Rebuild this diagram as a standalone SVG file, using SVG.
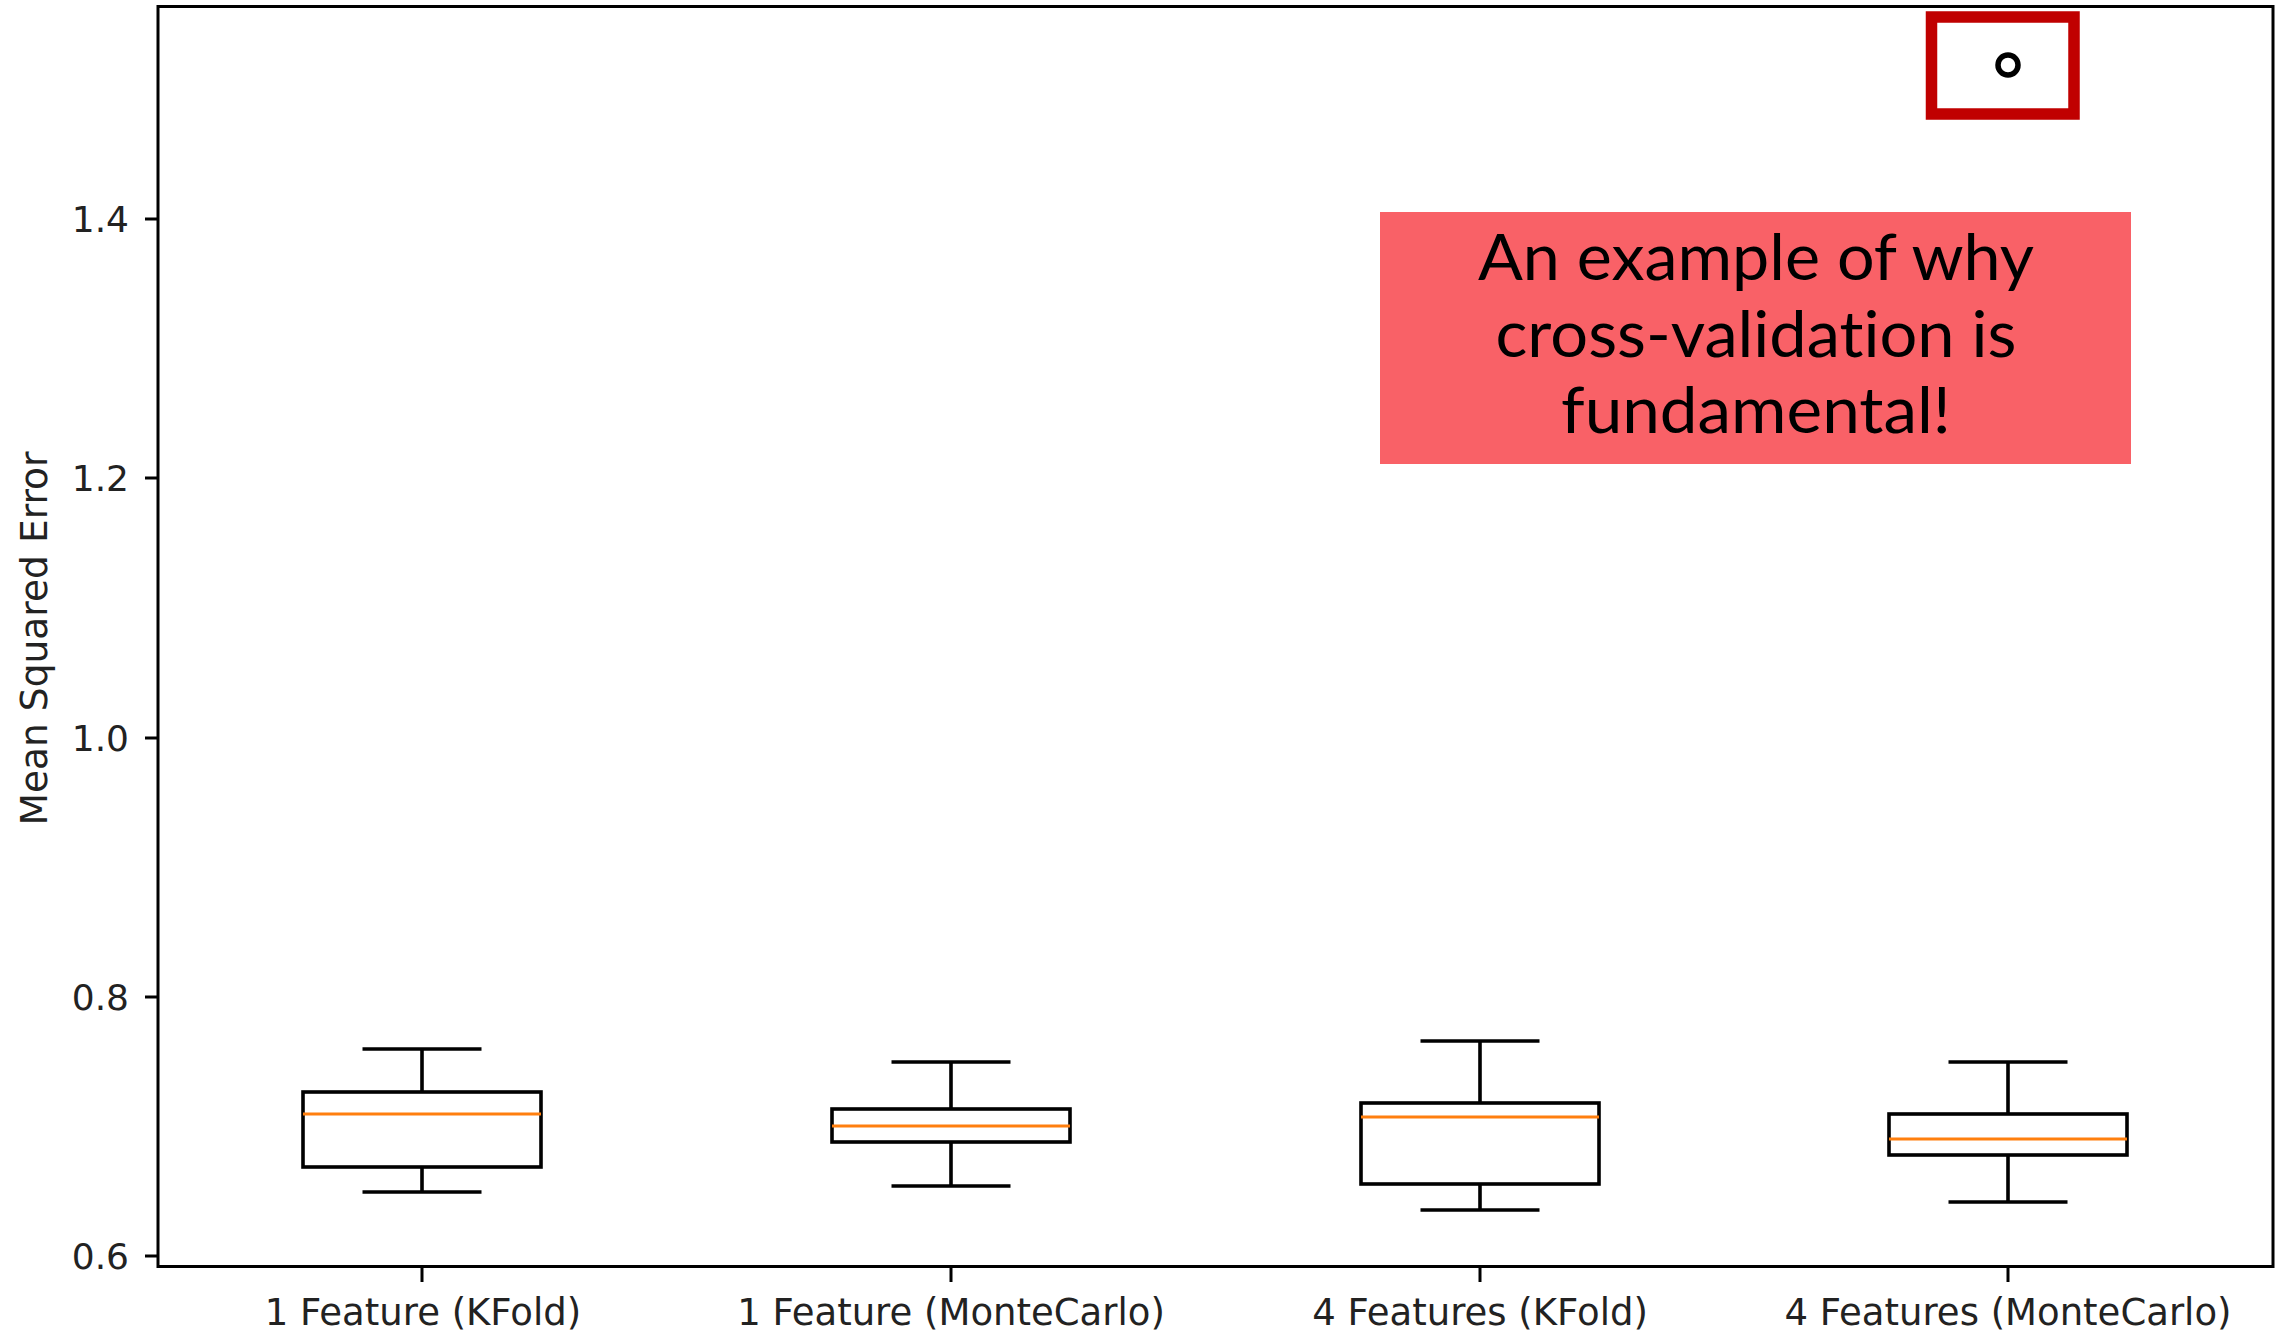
<svg xmlns="http://www.w3.org/2000/svg" width="2287" height="1334" viewBox="0 0 2287 1334">
<style>
.ax{fill:none;stroke:#000;stroke-width:3;stroke-linecap:square}
.tk{stroke:#000;stroke-width:3}
.bx{fill:none;stroke:#000;stroke-width:3.6;stroke-linecap:butt}
.md{stroke:#FF7F0E;stroke-width:3.2}
.tl{font-family:"DejaVu Sans",sans-serif;font-size:36px;fill:#222;text-anchor:end}
.xl{font-family:"DejaVu Sans",sans-serif;font-size:37px;fill:#222;text-anchor:middle}
.an{font-family:Lato,"Open Sans",sans-serif;font-size:63px;fill:#000;text-anchor:middle;font-variant-ligatures:none;font-feature-settings:"liga" 0,"dlig" 0}
</style>
<rect width="2287" height="1334" fill="#fff"/>
<g id="axes">
<rect class="ax" x="158" y="6.5" width="2115" height="1260"/>
<g class="tk">
<line x1="145" y1="1256" x2="158" y2="1256"/>
<line x1="145" y1="997" x2="158" y2="997"/>
<line x1="145" y1="738" x2="158" y2="738"/>
<line x1="145" y1="478" x2="158" y2="478"/>
<line x1="145" y1="219" x2="158" y2="219"/>
<line x1="422" y1="1266" x2="422" y2="1282"/>
<line x1="951" y1="1266" x2="951" y2="1282"/>
<line x1="1480" y1="1266" x2="1480" y2="1282"/>
<line x1="2008" y1="1266" x2="2008" y2="1282"/>
</g>
<text class="tl" x="129" y="1269">0.6</text>
<text class="tl" x="129" y="1010">0.8</text>
<text class="tl" x="129" y="751">1.0</text>
<text class="tl" x="129" y="491">1.2</text>
<text class="tl" x="129" y="232">1.4</text>
<text class="xl" x="423" y="1325">1 Feature (KFold)</text>
<text class="xl" x="951" y="1325">1 Feature (MonteCarlo)</text>
<text class="xl" x="1480" y="1325">4 Features (KFold)</text>
<text class="xl" x="2008" y="1325">4 Features (MonteCarlo)</text>
<text transform="translate(47,638.5) rotate(-90)" style="font-family:'DejaVu Sans',sans-serif;font-size:37.6px;fill:#222;text-anchor:middle">Mean Squared Error</text>
</g>
<g id="box1">
<rect class="bx" x="303" y="1092" width="238" height="75"/>
<path class="bx" d="M422 1092V1049M362.5 1049H481.5M422 1167V1192M362.5 1192H481.5"/>
<line class="md" x1="303" y1="1114" x2="541" y2="1114"/>
</g>
<g id="box2">
<rect class="bx" x="832" y="1109" width="238" height="33"/>
<path class="bx" d="M951 1109V1062M891.5 1062H1010.5M951 1142V1186M891.5 1186H1010.5"/>
<line class="md" x1="832" y1="1126" x2="1070" y2="1126"/>
</g>
<g id="box3">
<rect class="bx" x="1361" y="1103" width="238" height="81"/>
<path class="bx" d="M1480 1103V1041M1420.5 1041H1539.5M1480 1184V1210M1420.5 1210H1539.5"/>
<line class="md" x1="1361" y1="1117" x2="1599" y2="1117"/>
</g>
<g id="box4">
<rect class="bx" x="1889" y="1114" width="238" height="41"/>
<path class="bx" d="M2008 1114V1062M1948.5 1062H2067.5M2008 1155V1202M1948.5 1202H2067.5"/>
<line class="md" x1="1889" y1="1139" x2="2127" y2="1139"/>
<circle cx="2008" cy="65" r="10" fill="none" stroke="#000" stroke-width="5.5"/>
</g>
<g id="highlight">
<rect x="1931.5" y="17" width="142.5" height="97" fill="none" stroke="#C00000" stroke-width="11.5"/>
</g>
<g id="annotation">
<rect x="1380" y="212" width="751" height="252" fill="#F96167"/>
<text class="an" x="1756" y="280" textLength="556" lengthAdjust="spacingAndGlyphs">An example of why</text>
<text class="an" x="1756" y="357" textLength="521" lengthAdjust="spacingAndGlyphs">cross-validation is</text>
<text class="an" x="1756" y="433" textLength="390" lengthAdjust="spacingAndGlyphs">fundamental!</text>
</g>
</svg>
